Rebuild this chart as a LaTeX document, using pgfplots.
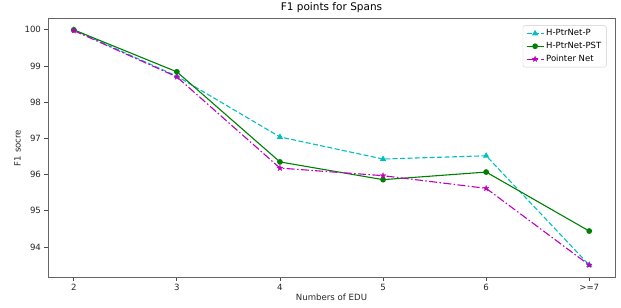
\documentclass[border=0pt]{standalone}
\usepackage{pgfplots}
\pgfplotsset{compat=1.18}
\usepackage{fontspec}
\setmainfont{DejaVu Sans}
\definecolor{mc}{rgb}{0,0.75,0.75}
\definecolor{mg}{rgb}{0,0.5,0}
\definecolor{mm}{rgb}{0.75,0,0.75}
\pgfdeclareplotmark{fstar}{%
  \pgfpathmoveto{\pgfqpointpolar{90}{\pgfplotmarksize}}%
  \pgfpathlineto{\pgfqpointpolar{126}{0.42\pgfplotmarksize}}%
  \pgfpathlineto{\pgfqpointpolar{162}{\pgfplotmarksize}}%
  \pgfpathlineto{\pgfqpointpolar{198}{0.42\pgfplotmarksize}}%
  \pgfpathlineto{\pgfqpointpolar{234}{\pgfplotmarksize}}%
  \pgfpathlineto{\pgfqpointpolar{270}{0.42\pgfplotmarksize}}%
  \pgfpathlineto{\pgfqpointpolar{306}{\pgfplotmarksize}}%
  \pgfpathlineto{\pgfqpointpolar{342}{0.42\pgfplotmarksize}}%
  \pgfpathlineto{\pgfqpointpolar{18}{\pgfplotmarksize}}%
  \pgfpathlineto{\pgfqpointpolar{54}{0.42\pgfplotmarksize}}%
  \pgfpathclose
  \pgfusepathqfillstroke}
\begin{document}
\begin{tikzpicture}[x=1pt,y=1pt]
\begin{axis}[
  name=ax,
  scale only axis,
  width=567pt, height=258pt,
  xmin=-0.25, xmax=5.25,
  ymin=93.17, ymax=100.30,
  xtick={0,1,2,3,4,5},
  xticklabels={2,3,4,5,6,>=7},
  ytick={94,95,96,97,98,99,100},
  tick align=outside, tick pos=left,
  major tick length=3.5pt,
  /pgf/number format/assume math mode=true,
  ticklabel style={font=\fontsize{8.6}{10}\selectfont, text=black!85},
  label style={font=\fontsize{8.6}{10}\selectfont, text=black!85},
  title style={font=\fontsize{10.5}{12}\selectfont, yshift=-3pt},
  title={F1 points for Spans},
  xlabel={Numbers of EDU},
  ylabel={F1 socre},
  xlabel style={yshift=3pt},
  ylabel style={yshift=-3pt},
  axis line style={black!60, line width=1pt},
  every tick/.style={black!70, line width=0.8pt},
  legend style={font=\fontsize{8.5}{10}\selectfont, draw=black!20, rounded corners=2pt, at={(0.985,0.975)}, anchor=north east, row sep=1pt},
  legend cell align=left,
]
\addplot[mc, dash pattern=on 5pt off 2.4pt, line width=1.1pt, mark=triangle*, mark size=2.5pt, mark options={solid}]
 coordinates {(0,100) (1,98.72) (2,97.04) (3,96.43) (4,96.52) (5,93.50)};
\addlegendentry{H-PtrNet-P}
\addplot[mg, solid, line width=1.1pt, mark=*, mark size=2.3pt]
 coordinates {(0,100) (1,98.84) (2,96.35) (3,95.86) (4,96.07) (5,94.44)};
\addlegendentry{H-PtrNet-PST}
\addplot[mm, dash pattern=on 8pt off 2.4pt on 1.5pt off 2.4pt, line width=1.1pt, mark=fstar, mark size=3pt, mark options={solid, line width=0.3pt}]
 coordinates {(0,99.98) (1,98.70) (2,96.18) (3,95.97) (4,95.62) (5,93.50)};
\addlegendentry{Pointer Net}
\end{axis}
\pgfresetboundingbox
\useasboundingbox ([shift={(-48pt,-30pt)}]ax.south west) rectangle ([shift={(6pt,19pt)}]ax.north east);
\end{tikzpicture}
\end{document}
